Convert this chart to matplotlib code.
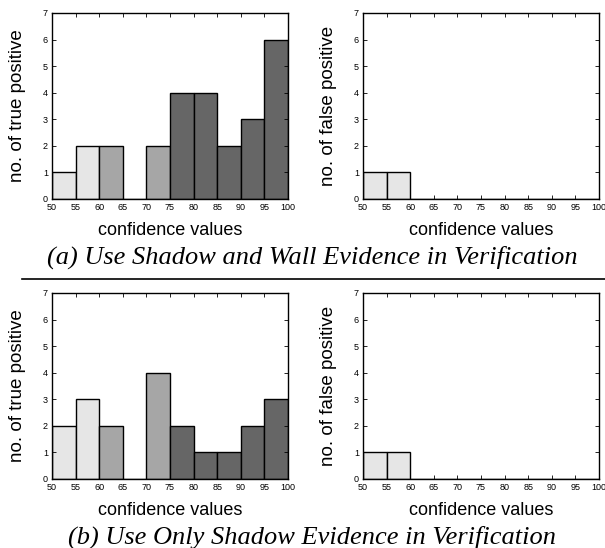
import matplotlib
matplotlib.use("Agg")
import matplotlib.pyplot as plt
import numpy as np

plt.rcParams['font.family'] = ['Liberation Sans', 'DejaVu Sans']

# —— 数据 —— #
bin_edges = [50, 55, 60, 65, 70, 75, 80, 85, 90, 95, 100]
bar_colors = ['#e6e6e6', '#e6e6e6', '#a6a6a6', '#a6a6a6', '#a6a6a6',
              '#666666', '#666666', '#666666', '#666666', '#666666']

tp_a = [1, 2, 2, 0, 2, 4, 4, 2, 3, 6]
fp_a = [1, 1, 0, 0, 0, 0, 0, 0, 0, 0]
tp_b = [2, 3, 2, 0, 4, 2, 1, 1, 2, 3]
fp_b = [1, 1, 0, 0, 0, 0, 0, 0, 0, 0]

captions = ["(a) Use Shadow and Wall Evidence in Verification",
            "(b) Use Only Shadow Evidence in Verification"]

W, H = 605, 548
fig = plt.figure(figsize=(W / 100, H / 100), dpi=100)


def px_axes(x0, y0, x1, y1):
    # 像素坐标 (左上为原点) -> figure 比例
    return fig.add_axes([x0 / W, 1 - y1 / H, (x1 - x0) / W, (y1 - y0) / H])


def draw_hist(ax, counts, ylabel):
    left = np.array(bin_edges[:-1])
    widths = np.diff(bin_edges)
    ax.bar(left, counts, width=widths, align='edge',
           color=bar_colors, edgecolor='black', linewidth=1.0)
    ax.set_xlim(bin_edges[0], bin_edges[-1])
    ax.set_ylim(0, 7)
    ax.set_xticks(bin_edges)
    ax.set_yticks(range(8))
    ax.tick_params(direction='in', length=3, width=0.6, labelsize=6.5,
                   top=True, right=True, pad=3)
    for sp in ax.spines.values():
        sp.set_linewidth(1.0)
    ax.set_ylabel(ylabel, fontsize=13.5, labelpad=12)
    ax.set_xlabel("confidence values", fontsize=13, labelpad=7)


rows = [(tp_a, fp_a, 13, 199), (tp_b, fp_b, 293, 479)]
for (tp, fp, y0, y1), cap in zip(rows, captions):
    ax1 = px_axes(52, y0, 288, y1)
    draw_hist(ax1, tp, "no. of true positive")
    ax2 = px_axes(363, y0, 599, y1)
    draw_hist(ax2, fp, "no. of false positive")
    fig.text(312 / W, 1 - (y1 + 58) / H, cap, ha='center', va='center',
             fontsize=19, style='italic',
             family=['Liberation Serif', 'DejaVu Serif'])

# 分隔线
fig.add_artist(plt.Line2D([22 / W, 1.0], [1 - 279 / H, 1 - 279 / H],
                          color='black', linewidth=1.2))

fig.savefig("out.png", dpi=100)
